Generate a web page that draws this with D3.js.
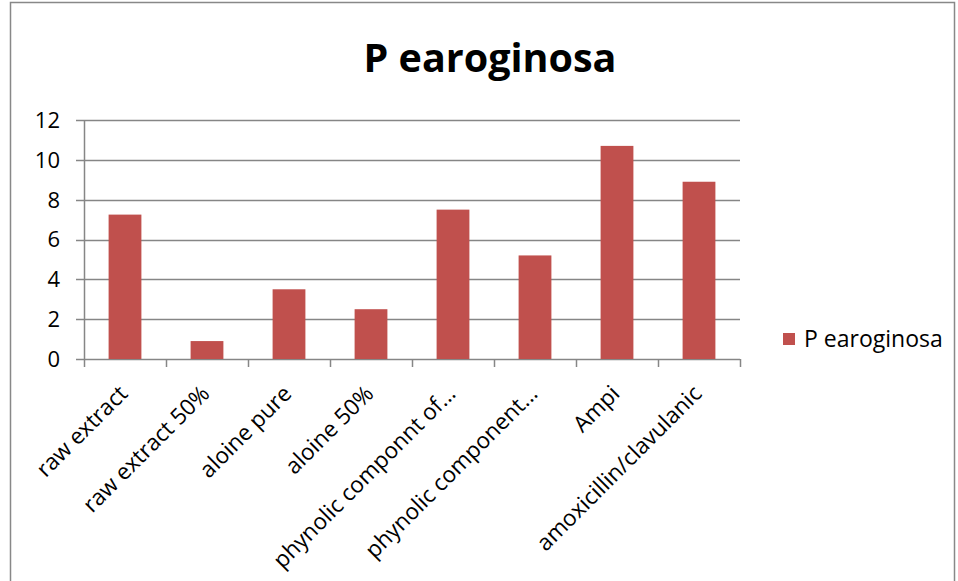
<!DOCTYPE html>
<html>
<head>
<meta charset="utf-8">
<script src="https://cdn.jsdelivr.net/npm/d3@7"></script>
<style>
  body { margin: 0; background: #fff; }
  text { font-family: "Open Sans", "Noto Sans", sans-serif; fill: #000; }
</style>
</head>
<body>
<div class="container"></div>
<script>
// data
const categories = ['raw extract', 'raw extract 50%', 'aloine pure', 'aloine 50%',
  'phynolic componnt of...', 'phynolic component...', 'Ampi', 'amoxicillin/clavulanic']
const values = [7.25, 0.9, 3.5, 2.5, 7.5, 5.2, 10.7, 8.9]
const yTicks = [0, 2, 4, 6, 8, 10, 12]
const seriesName = 'P earoginosa'

const W = 958, H = 581
const margin = { left: 84, right: 218, top: 120, bottom: 222 }

const svg = d3.select('.container')
  .append('svg')
  .attr('width', W)
  .attr('height', H)

// chart border
svg.append('rect')
  .attr('x', 10.5).attr('y', 2.5)
  .attr('width', 944).attr('height', 600)
  .attr('fill', 'none').attr('stroke', '#888').attr('stroke-width', 1.5)

const x = d3.scaleBand()
  .domain(categories)
  .range([margin.left, W - margin.right])
  .paddingInner(0.6)
  .paddingOuter(0.3)

const y = d3.scaleLinear()
  .domain([0, 12])
  .range([H - margin.bottom, margin.top])

// gridlines
svg.append('g')
  .selectAll('line')
  .data(yTicks)
  .join('line')
  .attr('x1', margin.left - 8).attr('x2', W - margin.right)
  .attr('y1', d => Math.round(y(d)) + 0.5).attr('y2', d => Math.round(y(d)) + 0.5)
  .attr('stroke', '#868686').attr('stroke-width', 1.5)

// y axis line
svg.append('line')
  .attr('x1', margin.left + 0.5).attr('x2', margin.left + 0.5)
  .attr('y1', y(12)).attr('y2', y(0))
  .attr('stroke', '#868686').attr('stroke-width', 1.5)

// y labels
svg.append('g')
  .selectAll('text')
  .data(yTicks)
  .join('text')
  .attr('x', 60)
  .attr('y', d => y(d))
  .attr('dy', '0.36em')
  .attr('text-anchor', 'end')
  .attr('font-size', 22)
  .text(d => d)

// x ticks (category boundaries)
const step = x.step()
const bounds = d3.range(categories.length + 1).map(i => margin.left + i * step)
svg.append('g')
  .selectAll('line')
  .data(bounds)
  .join('line')
  .attr('x1', d => Math.round(d) + 0.5).attr('x2', d => Math.round(d) + 0.5)
  .attr('y1', y(0)).attr('y2', y(0) + 8)
  .attr('stroke', '#868686').attr('stroke-width', 1.5)

// bars
svg.append('g')
  .selectAll('rect')
  .data(values)
  .join('rect')
  .attr('x', (d, i) => x(categories[i]))
  .attr('y', d => y(d))
  .attr('width', x.bandwidth())
  .attr('height', d => y(0) - y(d))
  .attr('fill', '#c0504d')

// x labels
svg.append('g')
  .selectAll('text')
  .data(categories)
  .join('text')
  .attr('transform', d => `translate(${x(d) + x.bandwidth() / 2 + 4},${y(0) + 36}) rotate(-45)`)
  .attr('text-anchor', 'end')
  .attr('font-size', 22.5)
  .text(d => d)

// title
svg.append('text')
  .attr('x', 490).attr('y', 72)
  .attr('text-anchor', 'middle')
  .attr('font-size', 39.5)
  .attr('font-weight', 'bold')
  .text(seriesName)

// legend
svg.append('rect')
  .attr('x', 783).attr('y', 333)
  .attr('width', 12).attr('height', 12)
  .attr('fill', '#c0504d')
svg.append('text')
  .attr('x', 804).attr('y', 339)
  .attr('dy', '0.36em')
  .attr('font-size', 23)
  .text(seriesName)
</script>
</body>
</html>
